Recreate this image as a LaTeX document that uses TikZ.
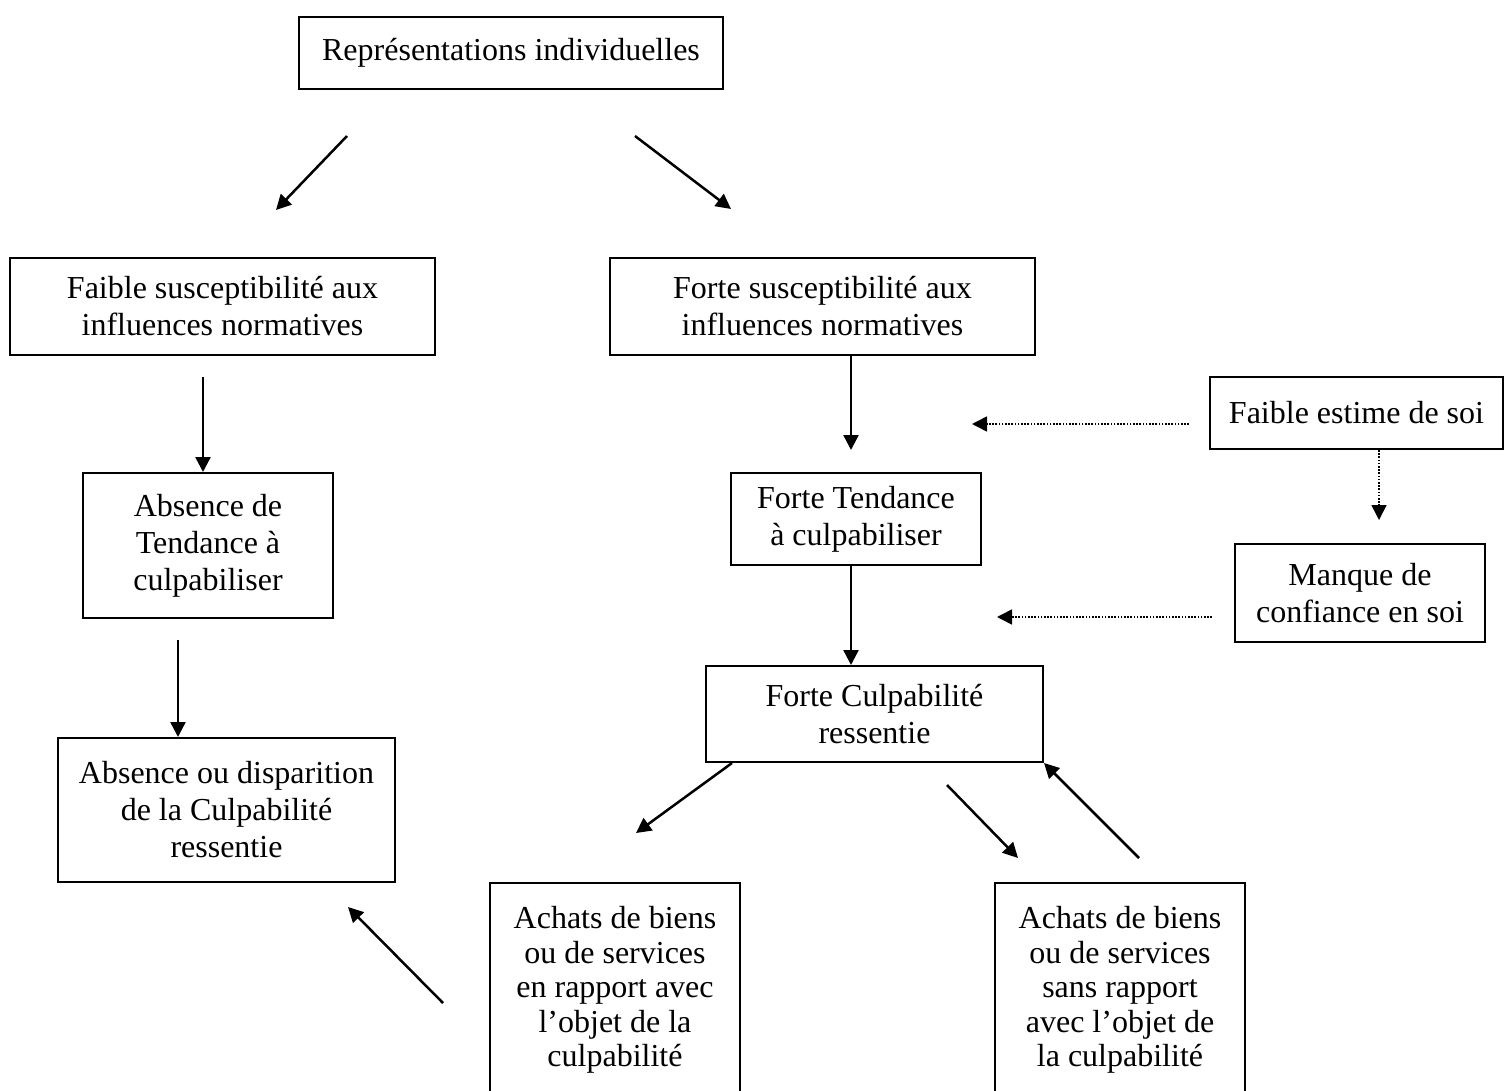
\documentclass[tikz,border=0pt]{standalone}
\usepackage{fontspec}
\setmainfont{Liberation Serif}
\usetikzlibrary{arrows.meta}

\tikzset{
  box/.style={draw,inner sep=0pt,align=center,font=\fontsize{32}{37}\selectfont},
  buybox/.style={box,anchor=north,minimum width=250pt,minimum height=214pt,
    font=\fontsize{32}{34.5}\selectfont},
  arr/.style={line width=2.5pt,-{Triangle[length=15pt,width=15pt]}},
  dotarr/.style={arr,line width=1.6pt,dash pattern=on 1.6pt off 1.6pt}
}

\begin{document}
\begin{tikzpicture}[x=1pt,y=-1pt,line width=2pt]
  \useasboundingbox (0,0) rectangle (1505,1091);
  \clip (0,0) rectangle (1505,1091);

  \node[box,minimum width=424pt,minimum height=72pt] (rep) at (511,53) {Représentations individuelles};
  \node[box,minimum width=425pt,minimum height=97pt] (faible) at (222.5,306.5) {Faible susceptibilité aux\\influences normatives};
  \node[box,minimum width=425pt,minimum height=97pt] (forte) at (822.5,306.5) {Forte susceptibilité aux\\influences normatives};
  \node[box,minimum width=250pt,minimum height=145pt] (absT) at (208,545.5) {Absence de\\Tendance à\\culpabiliser};
  \node[box,minimum width=250pt,minimum height=92pt] (forteT) at (856,519) {Forte Tendance\\à culpabiliser};
  \node[box,minimum width=293pt,minimum height=72pt] (estime) at (1356.5,413) {Faible estime de soi};
  \node[box,minimum width=250pt,minimum height=98pt] (manque) at (1360,593) {Manque de\\confiance en soi};
  \node[box,minimum width=337pt,minimum height=144pt] (absC) at (226.5,810) {Absence ou disparition\\de la Culpabilité\\ressentie};
  \node[box,minimum width=337pt,minimum height=96pt] (forteC) at (874.5,714) {Forte Culpabilité\\ressentie};
  \node[buybox] (achEn) at (615,882) {Achats de biens\\ou de services\\en rapport avec\\l’objet de la\\culpabilité};
  \node[buybox] (achSans) at (1120,882) {Achats de biens\\ou de services\\sans rapport\\avec l’objet de\\la culpabilité};

  \coordinate (r1) at (347,136);
  \coordinate (r1e) at (276,210);
  \coordinate (r2) at (635,136);
  \coordinate (r2e) at (731,209);
  \coordinate (f1) at (203,377);
  \coordinate (a1) at (178,640);
  \coordinate (t1) at (851,450);
  \coordinate (es1) at (1189,424);
  \coordinate (es1e) at (972,424);
  \coordinate (m1) at (1379,520);
  \coordinate (mq1) at (1212,617);
  \coordinate (mq1e) at (997,617);
  \coordinate (c1) at (636,833);
  \coordinate (c2) at (947,785);
  \coordinate (c2e) at (1018,858);
  \coordinate (s1) at (1139,858);
  \coordinate (b1) at (443,1003);
  \coordinate (b1e) at (348,907);

  \draw[arr] (r1) -- (r1e);
  \draw[arr] (r2) -- (r2e);
  \draw[arr] (f1) -- ([xshift=-5pt]absT.north);
  \draw[arr] (a1) -- ([xshift=-48.5pt]absC.north);
  \draw[arr] ([xshift=28.5pt]forte.south) -- (t1);
  \draw[arr] ([xshift=-5pt]forteT.south) -- ([xshift=-23.5pt]forteC.north);
  \draw[dotarr] (es1) -- (es1e);
  \draw[dotarr] ([xshift=22.5pt]estime.south) -- (m1);
  \draw[dotarr] (mq1) -- (mq1e);
  \draw[arr] ([xshift=-142.5pt]forteC.south) -- (c1);
  \draw[arr] (c2) -- (c2e);
  \draw[arr] (s1) -- (forteC.south east);
  \draw[arr] (b1) -- (b1e);
\end{tikzpicture}
\end{document}
